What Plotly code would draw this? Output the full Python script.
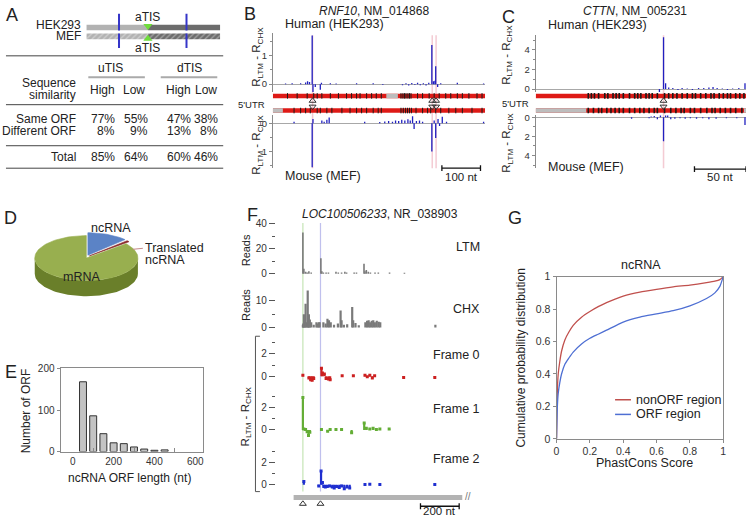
import math
import plotly.graph_objects as go

W, H = 751, 523
FONT = "Liberation Sans, Arial, Helvetica, sans-serif"
TXT = "#222222"

# ---------------- data ----------------
# Panel A
a_row_labels = ["Same ORF", "Different ORF", "Total"]
a_group_labels = ["uTIS", "dTIS"]
a_sub_labels = ["High", "Low", "High", "Low"]
a_same_orf = ["77%", "55%", "47%", "38%"]
a_diff_orf = ["8%", "9%", "13%", "8%"]
a_total = ["85%", "64%", "60%", "46%"]
a_species = ["HEK293", "MEF"]
a_gene_len = 100
a_atis = 46
a_utis = 24.4
a_dtis = 74.8

# Panel B  (RNF10)
b_len = 550
b_tis = [103, 413, 423]
b_h_pos = [33, 50, 72, 85, 90, 95, 102, 104, 110, 123, 126, 149, 164, 217, 260, 285, 336, 345, 352, 360,
           368, 375, 382, 390, 397, 404, 412, 416, 420, 422, 427, 435, 478, 546]
b_h_val = [0.02, 0.03, 0.03, 0.06, 0.1, 0.08, 1.72, -0.34, -0.1, -0.2, 0.05, 0.03, 0.02, 0.03, 0.03, -0.03,
           -0.04, 0.03, -0.05, 0.04, -0.03, 0.05, -0.04, 0.03, -0.05, 0.05, 1.38, 0.1, 0.12, 0.63, -0.1, 0.03,
           0.05, 0.02]
b_m_pos = [55, 102, 104, 127, 133, 140, 146, 238, 277, 290, 300, 310, 318, 326, 334, 342, 350, 356, 362, 366,
           372, 380, 388, 412, 418, 422, 428, 432, 439, 450, 546]
b_m_val = [-0.05, 1.55, -0.15, -0.1, -0.05, -0.12, -0.2, -0.05, -0.04, -0.06, -0.08, -0.05, -0.1, -0.08, -0.12,
           -0.1, -0.14, -0.1, -0.25, 0.2, -0.08, -0.1, -0.05, 1.0, -0.1, 0.52, -0.15, 0.1, -0.23, -0.05, -0.05]
b_h_mis = [38, 63, 89, 106, 115, 127, 149, 170, 191, 204, 217, 226, 243, 256, 268, 281, 332, 337, 341, 345, 350,
           354, 358, 375, 388, 405, 418, 431, 448, 461, 478, 491, 508, 529, 542]
b_m_mis = [55, 72, 85, 97, 115, 123, 140, 153, 179, 200, 217, 230, 243, 260, 273, 281, 332, 338, 344, 349, 354,
           359, 371, 388, 401, 409, 422, 435, 456, 474, 491, 516, 542]
b_h_gray = [(294, 324)]
b_m_gray = [(0, 26)]
b_scale_nt = 100

# Panel C  (CTTN)
c_len = 204
c_tis = [124]
c_h_pos = [120, 124, 126, 129, 133, 138, 142, 147, 152, 158, 163, 168, 172, 176, 181, 186, 191, 197, 203]
c_h_val = [-0.3, 5.3, 0.6, 0.15, 0.1, -0.1, 0.1, 0.05, -0.1, 0.1, 0.1, 0.15, 0.2, 0.1, 0.05, -0.1, 0.05, 0.1, 0.6]
c_m_pos = [93, 110, 112, 115, 118, 121, 124, 126, 128, 131, 135, 140, 145, 150, 156, 162, 168, 175, 185, 195, 203]
c_m_val = [0.15, 0.1, -0.1, -0.15, 0.2, -0.3, 2.5, -0.4, -0.3, 0.2, 0.15, 0.1, 0.15, 0.1, 0.15, 0.1, 0.2, 0.15,
           0.1, 0.1, 0.8]
c_h_mis = [51, 54, 57, 61, 67, 70, 75, 78, 81, 85, 91, 96, 99, 102, 107, 110, 113, 118, 125, 129, 133, 137, 142,
           147, 152, 155, 160, 165, 170, 173, 178, 182, 186, 189, 194, 198, 202]
c_m_mis = [51, 56, 61, 64, 69, 73, 77, 81, 85, 91, 96, 101, 105, 110, 115, 118, 125, 131, 136, 141, 144, 150, 154,
           160, 166, 171, 174, 179, 184, 189, 194, 200]
c_h_gray = []
c_m_gray = [(0, 49), (202, 204)]
c_scale_nt = 50

# Panel D
d_labels = ["ncRNA", "Translated ncRNA", "mRNA"]
d_values = [12.8, 1.2, 86.0]

# Panel E
e_length = [50, 100, 150, 200, 250, 300, 350, 400, 450]
e_count = [168, 86, 43, 21, 19, 11, 6, 3, 4]

# Panel F  (LOC100506233)
f_len = 872
f_aug = [48, 139]
f_ltm_pos = [48, 53, 62, 70, 79, 91, 141, 146, 154, 168, 180, 219, 231, 248, 265, 274, 313, 325, 364, 369, 376,
             386, 397, 421, 438, 496, 573]
f_ltm_val = [33, 4, 1.5, 1, 2, 1, 12.5, 2, 1, 1, 1, 1.5, 1, 1, 1.5, 1, 1, 1, 8, 2, 3, 1.5, 1, 1, 1, 1, 0.8]
f_chx_pos = [48, 50, 53, 57, 62, 66, 73, 76, 79, 84, 91, 104, 118, 124, 130, 135, 154, 166, 175, 183, 192, 209,
             229, 243, 248, 260, 277, 303, 308, 320, 337, 371, 380, 388, 396, 404, 412, 420, 430, 440, 448, 733]
f_chx_val = [1, 1.5, 5, 2, 9, 2, 14, 3, 5, 3, 2, 1, 2, 1.5, 2, 2, 2, 1.5, 3.3, 2.7, 2, 1, 1.5, 6.4, 2.7, 1, 1.2,
             7.7, 2.7, 1.7, 0.8, 2, 2.5, 2.7, 2, 2.5, 2.7, 2, 2.5, 2.2, 2, 1]
f0_pos = [48, 79, 88, 96, 104, 144, 149, 159, 168, 180, 189, 251, 309, 369, 381, 394, 407, 419, 569, 730]
f0_val = [0.1, -0.15, -0.3, -0.35, -0.2, 0.72, 0.3, 0.2, -0.2, -0.25, -0.3, 0.05, 0.05, 0.1, -0.05, 0.1, -0.15,
          0.05, -0.1, -0.1]
f1_pos = [48, 53, 62, 70, 77, 84, 144, 176, 189, 219, 248, 300, 365, 376, 394, 411, 428, 446, 494]
f1_val = [2.9, 0.1, 0.05, -0.15, -0.5, -0.2, 0.05, -0.1, 0.05, 0.05, 0.05, -0.25, 0.63, 0.15, 0.1, 0.15, 0.05,
          0.1, 0.1]
f2_pos = [53, 130, 142, 149, 156, 164, 174, 186, 200, 210, 222, 236, 248, 262, 276, 290, 369, 394, 446, 730]
f2_val = [0.3, -0.1, 1.22, 0.2, -0.15, -0.2, -0.15, -0.1, -0.2, -0.3, -0.15, -0.25, -0.1, -0.35, -0.2, -0.3,
          0.03, 0.05, 0.03, 0.03]
f_scale_nt = 200

# Panel G
g_x = [0, 0.005, 0.01, 0.02, 0.03, 0.05, 0.075, 0.1, 0.15, 0.2, 0.25, 0.3, 0.4, 0.5, 0.6, 0.7, 0.8, 0.9, 0.95,
       0.98, 1.0]
g_nonorf = [0, 0.3, 0.4, 0.48, 0.54, 0.61, 0.66, 0.70, 0.75, 0.785, 0.815, 0.84, 0.88, 0.905, 0.922, 0.937,
            0.948, 0.963, 0.972, 0.982, 1.0]
g_orf = [0, 0.2, 0.28, 0.35, 0.4, 0.46, 0.5, 0.535, 0.585, 0.62, 0.645, 0.67, 0.72, 0.75, 0.77, 0.79, 0.82,
         0.865, 0.9, 0.94, 1.0]
g_names = ["nonORF region", "ORF region"]

# ---------------- helpers ----------------
def PX(x):
    return x / W


def PY(y):
    return 1 - y / H


def xdom(a, b):
    return [a / W, b / W]


def ydom(top, bottom):
    return [1 - bottom / H, 1 - top / H]


def sticks(pos, val):
    xs, ys = [], []
    for p, v in zip(pos, val):
        xs += [p, p, None]
        ys += [0, v, None]
    return xs, ys


fig = go.Figure()
annotations = []
shapes = []


def ann(text, x, y, size=11, xanchor="center", yanchor="middle", angle=0, color=TXT, xref="paper"):
    annotations.append(dict(text=text, x=(x if xref != "paper" else PX(x)), y=PY(y), xref=xref, yref="paper",
                            showarrow=False, xanchor=xanchor, yanchor=yanchor, textangle=angle, borderpad=0,
                            font=dict(size=size, color=color, family=FONT)))


def pline(x0, y0, x1, y1, color="#333", width=1, xref="paper", layer="above"):
    shapes.append(dict(type="line", xref=xref, yref="paper",
                       x0=(x0 if xref != "paper" else PX(x0)), x1=(x1 if xref != "paper" else PX(x1)),
                       y0=PY(y0), y1=PY(y1), line=dict(color=color, width=width), layer=layer))


def add(tr):
    tr.hoverinfo = "skip"
    tr.showlegend = False
    fig.add_trace(tr)


# ---------------- Panel A ----------------
for yv, sp in zip([1, 0], a_species):
    for x0, x1, col in [(0, a_atis, "#b2b2b2"), (a_atis, a_gene_len, "#6c6c6c")]:
        m = dict(color=col, line=dict(width=0))
        if sp == "MEF":
            m["pattern"] = dict(shape="/", fgcolor="rgba(255,255,255,0.8)", size=4, solidity=0.3,
                                fillmode="overlay")
        add(go.Bar(x=[x1 - x0], base=[x0], y=[yv], orientation="h", width=0.64, marker=m,
                   xaxis="x", yaxis="y"))
for t in [a_utis, a_dtis]:
    add(go.Scatter(x=[t, t, None, t, t], y=[2.55, 0.67, None, 0.33, -1.33], mode="lines",
                   line=dict(color="#3535c8", width=2), xaxis="x", yaxis="y"))
add(go.Scatter(x=[a_atis], y=[1.17], mode="markers", marker=dict(symbol="triangle-down", size=8, color="#6fdc3c"),
               xaxis="x", yaxis="y"))
add(go.Scatter(x=[a_atis], y=[-0.28], mode="markers", marker=dict(symbol="triangle-up", size=8, color="#6fdc3c"),
               xaxis="x", yaxis="y"))
TS = 12
ann("A", 9, 9, size=18)
ann("aTIS", 146, 11, size=TS)
ann("aTIS", 146, 43, size=TS)
ann(a_species[0], 80, 19.5, size=12, xanchor="right")
ann(a_species[1], 80, 30.5, size=12, xanchor="right")
for yy in [51, 101, 143, 166]:
    pline(3, yy, 222, yy, color="#444", width=1)
ann(a_group_labels[0], 108, 63, size=TS)
ann(a_group_labels[1], 188, 63, size=TS)
pline(86, 73, 143, 73, color="#aaaaaa", width=2)
pline(159, 73, 216, 73, color="#aaaaaa", width=2)
ann("Sequence", 75, 79, size=TS, xanchor="right")
ann("similarity", 75, 91, size=TS, xanchor="right")
for xc, lab in zip([100, 132, 177, 205], a_sub_labels):
    ann(lab, xc, 86, size=TS)
col_right = [114, 147, 191, 218]
for lab, vals, yy in zip(a_row_labels, [a_same_orf, a_diff_orf, a_total], [116, 128, 155]):
    ann(lab, 75, yy, size=TS, xanchor="right")
    for xr, v in zip(col_right, vals):
        ann(v, xr, yy, size=TS, xanchor="right")


# ---------------- Panels B & C ----------------
def seq_track(xa, ya, length, row, gray, mis, mw):
    add(go.Scatter(x=[0, length], y=[row, row], mode="lines", line=dict(color="#de1a16", width=4.5),
                   xaxis=xa, yaxis=ya))
    for g0, g1 in gray:
        add(go.Scatter(x=[g0, g1], y=[row, row], mode="lines", line=dict(color="#bdbdbd", width=4.5),
                       xaxis=xa, yaxis=ya))
    add(go.Scatter(x=mis, y=[row] * len(mis), mode="markers",
                   marker=dict(symbol="line-ns", size=4, line=dict(width=mw, color="#1a1a1a")),
                   xaxis=xa, yaxis=ya))


def track_panel(xa, ya_top, ya_seq, ya_bot, hpos, hval, mpos, mval, hmis, mmis, hgray, mgray, length, tis, mw):
    xs, ys = sticks(hpos, hval)
    add(go.Scatter(x=xs, y=ys, mode="lines", line=dict(color="#2020c0", width=1.3), xaxis=xa, yaxis=ya_top))
    xs, ys = sticks(mpos, mval)
    add(go.Scatter(x=xs, y=ys, mode="lines", line=dict(color="#2020c0", width=1.3), xaxis=xa, yaxis=ya_bot))
    seq_track(xa, ya_seq, length, 0.833, hgray, hmis, mw)
    seq_track(xa, ya_seq, length, 0.208, mgray, mmis, mw)
    add(go.Scatter(x=tis, y=[0.625] * len(tis), mode="markers",
                   marker=dict(symbol="triangle-up-open", size=6, color="#333", line=dict(width=1)),
                   xaxis=xa, yaxis=ya_seq))
    add(go.Scatter(x=tis, y=[0.375] * len(tis), mode="markers",
                   marker=dict(symbol="triangle-down-open", size=6, color="#333", line=dict(width=1)),
                   xaxis=xa, yaxis=ya_seq))
    for t in tis:
        pline(t, 166, t, 30, color="rgba(235,160,175,0.55)", width=1.5, xref=xa, layer="below")


track_panel("x2", "y2", "y3", "y4", b_h_pos, b_h_val, b_m_pos, b_m_val, b_h_mis, b_m_mis, b_h_gray, b_m_gray,
            b_len, b_tis, 1.0)
track_panel("x3", "y5", "y6", "y7", c_h_pos, c_h_val, c_m_pos, c_m_val, c_h_mis, c_m_mis, c_h_gray, c_m_gray,
            c_len, c_tis, 1.6)

RT = "R<sub>LTM</sub> - R<sub>CHX</sub>"
ann("B", 249, 8, size=18)
ann("<i>RNF10</i>, NM_014868", 374, 5, size=12)
ann("Human (HEK293)", 283, 18, size=12.5, xanchor="left")
ann("Mouse (MEF)", 283, 174, size=12.5, xanchor="left")
ann("5'UTR", 265, 101, size=9.5, xanchor="right")
ann(RT, 256, 52, size=11.5, angle=-90)
ann(RT, 256, 142, size=11.5, angle=-90)
bs0 = b_len - 112
pline(bs0, 166, bs0 + b_scale_nt, 166, color="#111", width=1.3, xref="x2")
pline(bs0, 163, bs0, 169, color="#111", width=1.3, xref="x2")
pline(bs0 + b_scale_nt, 163, bs0 + b_scale_nt, 169, color="#111", width=1.3, xref="x2")
ann("%d nt" % b_scale_nt, bs0 + b_scale_nt / 2, 175, size=11.5, xref="x2")

ann("C", 510, 11, size=18)
ann("<i>CTTN</i>, NM_005231", 637, 5, size=12)
ann("Human (HEK293)", 548, 19, size=12.5, xanchor="left")
ann("Mouse (MEF)", 548, 165, size=12.5, xanchor="left")
ann("5'UTR", 502, 100, size=9.5, xanchor="left")
ann(RT, 508, 50, size=11.5, angle=-90)
ann(RT, 508, 140, size=11.5, angle=-90)
cs0 = c_len - c_scale_nt
pline(cs0, 167, cs0 + c_scale_nt, 167, color="#111", width=1.3, xref="x3")
pline(cs0, 164, cs0, 170, color="#111", width=1.3, xref="x3")
pline(cs0 + c_scale_nt, 164, cs0 + c_scale_nt, 170, color="#111", width=1.3, xref="x3")
ann("%d nt" % c_scale_nt, cs0 + c_scale_nt / 2, 175, size=11.5, xref="x3")

# ---------------- Panel D (3D pie drawn from fractions) ----------------
d_cx, d_cy, d_a, d_b, d_depth, d_explode = 84, 258, 52, 23, 16, 4
d_top_colors = ["#5b83c6", "#8c2b2b", "#98af4f"]
d_side_colors = ["#3e5f96", "#5e1b1b", "#6a7f2a"]
tot = float(sum(d_values))
cum = 0.0
slices = []
for i, v in enumerate(d_values):
    t0 = cum / tot * 2 * math.pi
    cum += v
    t1 = cum / tot * 2 * math.pi
    tm = (t0 + t1) / 2
    e = d_explode if i < 2 else 0
    ox, oy = e * math.sin(tm), -e * math.cos(tm) * 0.8
    slices.append((t0, t1, ox, oy))


def arc(t0, t1, ox, oy, dy=0.0):
    n = max(4, int((t1 - t0) / (2 * math.pi) * 120))
    pts = [t0 + (t1 - t0) * k / n for k in range(n + 1)]
    return ([d_cx + ox + d_a * math.sin(t) for t in pts], [d_cy + oy + dy - d_b * math.cos(t) for t in pts])


for i, (t0, t1, ox, oy) in enumerate(slices):
    s0, s1 = max(t0, math.pi / 2), min(t1, 3 * math.pi / 2)
    if s1 > s0:
        ax_, ay_ = arc(s0, s1, ox, oy)
        bx_, by_ = arc(s0, s1, ox, oy, d_depth)
        add(go.Scatter(x=ax_ + bx_[::-1], y=ay_ + by_[::-1], mode="lines", fill="toself",
                       fillcolor=d_side_colors[i], line=dict(width=0), xaxis="x4", yaxis="y8"))
for i, (t0, t1, ox, oy) in enumerate(slices):
    ax_, ay_ = arc(t0, t1, ox, oy)
    add(go.Scatter(x=[d_cx + ox] + ax_ + [d_cx + ox], y=[d_cy + oy] + ay_ + [d_cy + oy], mode="lines",
                   fill="toself", fillcolor=d_top_colors[i], line=dict(width=0.6, color=d_top_colors[i]),
                   xaxis="x4", yaxis="y8"))
ann("D", 8, 217, size=18)
ann(d_labels[0], 109, 227, size=12.5)
ann("Translated", 142, 248, size=12.5, xanchor="left")
ann("ncRNA", 142, 260, size=12.5, xanchor="left")
ann(d_labels[2], 79, 277, size=12.5)
pline(131, 249, 141, 248, color="#c58a8a", width=1)

# ---------------- Panel E ----------------
add(go.Bar(x=e_length, y=e_count, width=34, marker=dict(color="#c3c3c3", line=dict(color="#333", width=1)),
           xaxis="x5", yaxis="y9"))
ann("E", 8, 375, size=18)
ann("Number of ORF", 23, 414, size=12, angle=-90)
ann("ncRNA ORF length (nt)", 128, 483, size=12)

# ---------------- Panel F ----------------
xs, ys = sticks(f_ltm_pos, f_ltm_val)
add(go.Scatter(x=xs, y=ys, mode="lines", line=dict(color="#7a7a7a", width=1.6), xaxis="x6", yaxis="y10"))
xs, ys = sticks(f_chx_pos, f_chx_val)
add(go.Scatter(x=xs, y=ys, mode="lines", line=dict(color="#7a7a7a", width=2.2), xaxis="x6", yaxis="y11"))
for pos, val, col, ya in [(f0_pos, f0_val, "#cc2020", "y12"), (f1_pos, f1_val, "#63ad35", "y13"),
                          (f2_pos, f2_val, "#1f2fd0", "y14")]:
    xs, ys = sticks(pos, val)
    add(go.Scatter(x=xs, y=ys, mode="lines", line=dict(color=col, width=2.2), xaxis="x6", yaxis=ya))
    add(go.Scatter(x=pos, y=val, mode="markers", marker=dict(symbol="square", size=3, color=col),
                   xaxis="x6", yaxis=ya))
add(go.Scatter(x=[0, f_len], y=[0.76, 0.76], mode="lines", line=dict(color="#b3b3b3", width=5),
               xaxis="x6", yaxis="y15"))
add(go.Scatter(x=f_aug, y=[0.5] * len(f_aug), mode="markers",
               marker=dict(symbol="triangle-up-open", size=6, color="#333", line=dict(width=1)),
               xaxis="x6", yaxis="y15"))
pline(f_aug[0], 497, f_aug[0], 222, color="rgba(150,205,120,0.55)", width=1.2, xref="x6", layer="below")
pline(f_aug[1], 497, f_aug[1], 222, color="rgba(150,150,225,0.6)", width=1.2, xref="x6", layer="below")
fs0 = 656
pline(fs0, 512, fs0 + f_scale_nt, 512, color="#111", width=1.3, xref="x6")
pline(fs0, 509, fs0, 515, color="#111", width=1.3, xref="x6")
pline(fs0 + f_scale_nt, 509, fs0 + f_scale_nt, 515, color="#111", width=1.3, xref="x6")
ann("%d nt" % f_scale_nt, fs0 + f_scale_nt / 2, 517, size=11.5, xref="x6")
ann("//", 469, 502, size=10, color="#777")
ann("F", 252, 214, size=18)
ann("<i>LOC100506233</i>, NR_038903", 380, 213, size=12)
ann("LTM", 482, 247, size=12.5, xanchor="right")
ann("CHX", 482, 310, size=12.5, xanchor="right")
ann("Frame 0", 482, 357, size=12.5, xanchor="right")
ann("Frame 1", 482, 412, size=12.5, xanchor="right")
ann("Frame 2", 482, 464, size=12.5, xanchor="right")
ann("Reads", 245, 250, size=11, angle=-90)
ann("Reads", 245, 306, size=11, angle=-90)
ann(RT, 245, 420, size=11.5, angle=-90)
shapes.append(dict(type="path", xref="paper", yref="paper",
                   path="M %f,%f L %f,%f L %f,%f L %f,%f" % (PX(259), PY(338), PX(254.5), PY(338), PX(254.5),
                                                             PY(497), PX(259), PY(497)),
                   line=dict(color="#555", width=1)))

# ---------------- Panel G ----------------
for yv, nm, col in [(g_nonorf, g_names[0], "#c0504d"), (g_orf, g_names[1], "#4e6fd3")]:
    add(go.Scatter(x=g_x, y=yv, mode="lines", line=dict(color=col, width=1.3, shape="spline", smoothing=0.6),
                   name=nm, xaxis="x7", yaxis="y16"))
ann("G", 516, 217, size=18)
ann("ncRNA", 643, 265, size=12.5)
ann("Cumulative probability distribution", 522, 360, size=12, angle=-90)
ann("PhastCons Score", 647, 468, size=12.5)
pline(617, 403, 633, 403, color="#c0504d", width=1.5)
pline(617, 418, 633, 418, color="#4e6fd3", width=1.5)
ann(g_names[0], 637, 403, size=12.5, xanchor="left")
ann(g_names[1], 637, 418, size=12.5, xanchor="left")

# ---------------- axes ----------------
HID = dict(visible=False, fixedrange=True, showgrid=False, zeroline=False)


def track_axis(dom, rng, tv, mv, xa, zero=True, line=True, tl=3, mtl=2, color="#8a8a8a", fs=9.5):
    return dict(domain=dom, range=rng, anchor=xa, showgrid=False, zeroline=zero, zerolinecolor="#a8a8a8",
                zerolinewidth=1, showline=line, linecolor=color, linewidth=1, ticks="outside", ticklen=tl,
                tickcolor=color, tickwidth=1, tickmode="array", tickvals=tv, ticktext=[str(v) for v in tv],
                minor=dict(tickmode="array", tickvals=mv, ticks="outside", ticklen=mtl, tickcolor=color),
                tickfont=dict(size=fs, color="#333", family=FONT), fixedrange=True)


GT = dict(tickvals=[0, 0.2, 0.4, 0.6, 0.8, 1], ticktext=["0", "0.2", "0.4", "0.6", "0.8", "1"])
layout = dict(
    width=W, height=H, margin=dict(l=0, r=0, t=0, b=0), paper_bgcolor="white",
    plot_bgcolor="rgba(0,0,0,0)", showlegend=False, hovermode=False, barmode="overlay",
    font=dict(family=FONT, size=11, color=TXT),
    xaxis=dict(HID, domain=xdom(84, 219), range=[0, a_gene_len], anchor="y"),
    yaxis=dict(HID, domain=ydom(5, 48), range=[-1.88, 2.88], anchor="x"),
    xaxis2=dict(HID, domain=xdom(272, 486), range=[0, b_len], anchor="y2"),
    yaxis2=track_axis(ydom(28, 88), [-0.276, 1.793], [0, 1], [0.5, 1.5], "x2"),
    yaxis3=dict(HID, domain=ydom(88, 112), range=[0, 1], anchor="x2"),
    yaxis4=track_axis(ydom(112, 166), [1.586, -0.276], [0, 1], [0.5, 1.5], "x2"),
    xaxis3=dict(HID, domain=xdom(537, 749), range=[0, c_len], anchor="y5"),
    yaxis5=track_axis(ydom(30, 88), [-0.3, 5.5], [0, 2, 4], [1, 3, 5], "x3"),
    yaxis6=dict(HID, domain=ydom(88, 112), range=[0, 1], anchor="x3"),
    yaxis7=track_axis(ydom(112, 166), [5.33, -0.2], [0, 2, 4], [1, 3, 5], "x3"),
    xaxis4=dict(HID, domain=xdom(0, 170), range=[0, 170], anchor="y8"),
    yaxis8=dict(HID, domain=ydom(205, 310), range=[310, 205], anchor="x4"),
    xaxis5=dict(domain=xdom(58, 202), range=[-60, 640], anchor="y9", showline=True, mirror=True,
                linecolor="#8a8a8a", ticks="", tickmode="array", tickvals=[0, 200, 400, 600],
                minor=dict(tickmode="array", tickvals=[100, 300, 500], ticks="inside", ticklen=4,
                           tickcolor="#8a8a8a"),
                tickfont=dict(size=10, color="#333"), showgrid=False, zeroline=False, fixedrange=True),
    yaxis9=dict(domain=ydom(371, 456), range=[0, 200], anchor="x5", showline=True, mirror=True,
                linecolor="#8a8a8a", ticks="outside", ticklen=3, tickcolor="#8a8a8a", tickmode="array",
                tickvals=[0, 100, 200], tickfont=dict(size=10, color="#333"), showgrid=False, zeroline=False,
                fixedrange=True),
    xaxis6=dict(HID, domain=xdom(275, 485), range=[-92, 985], anchor="y10"),
    yaxis10=track_axis(ydom(218, 277), [-2.35, 43.9], [0, 20, 40], [10, 30], "x6", zero=False, line=False,
                       tl=6, mtl=3, color="#555", fs=10),
    yaxis11=track_axis(ydom(290, 332), [-1.1, 14.4], [0, 10], [5], "x6", zero=False, line=False,
                       tl=6, mtl=3, color="#555", fs=10),
    yaxis12=track_axis(ydom(343, 386), [-0.61, 3.13], [0, 2], [1, 3], "x6", zero=False, line=False,
                       tl=6, mtl=3, color="#555", fs=10),
    yaxis13=track_axis(ydom(398, 442), [-0.7, 3.13], [0, 2], [1, 3], "x6", zero=False, line=False,
                       tl=6, mtl=3, color="#555", fs=10),
    yaxis14=track_axis(ydom(453, 497), [-0.61, 3.22], [0, 2], [1, 3], "x6", zero=False, line=False,
                       tl=6, mtl=3, color="#555", fs=10),
    yaxis15=dict(HID, domain=ydom(497, 522), range=[0, 1], anchor="x6"),
    xaxis7=dict(GT, domain=xdom(558, 726), range=[0, 1], anchor="y16", showline=True, mirror=True,
                linecolor="#8a8a8a", ticks="outside", ticklen=3, tickcolor="#8a8a8a", tickmode="array",
                tickfont=dict(size=10.5, color="#333"), showgrid=False, zeroline=False, fixedrange=True),
    yaxis16=dict(GT, domain=ydom(277, 443), range=[0, 1], anchor="x7", showline=True, mirror=True,
                 linecolor="#8a8a8a", ticks="outside", ticklen=3, tickcolor="#8a8a8a", tickmode="array",
                 tickfont=dict(size=10.5, color="#333"), showgrid=False, zeroline=False, fixedrange=True),
    annotations=annotations,
    shapes=shapes,
)
fig.update_layout(**layout)
fig.write_html("out.html", config={"displayModeBar": False},
               post_script="document.body.style.margin='0px';document.body.style.padding='0px';"
                           "document.body.style.overflow='hidden';")
